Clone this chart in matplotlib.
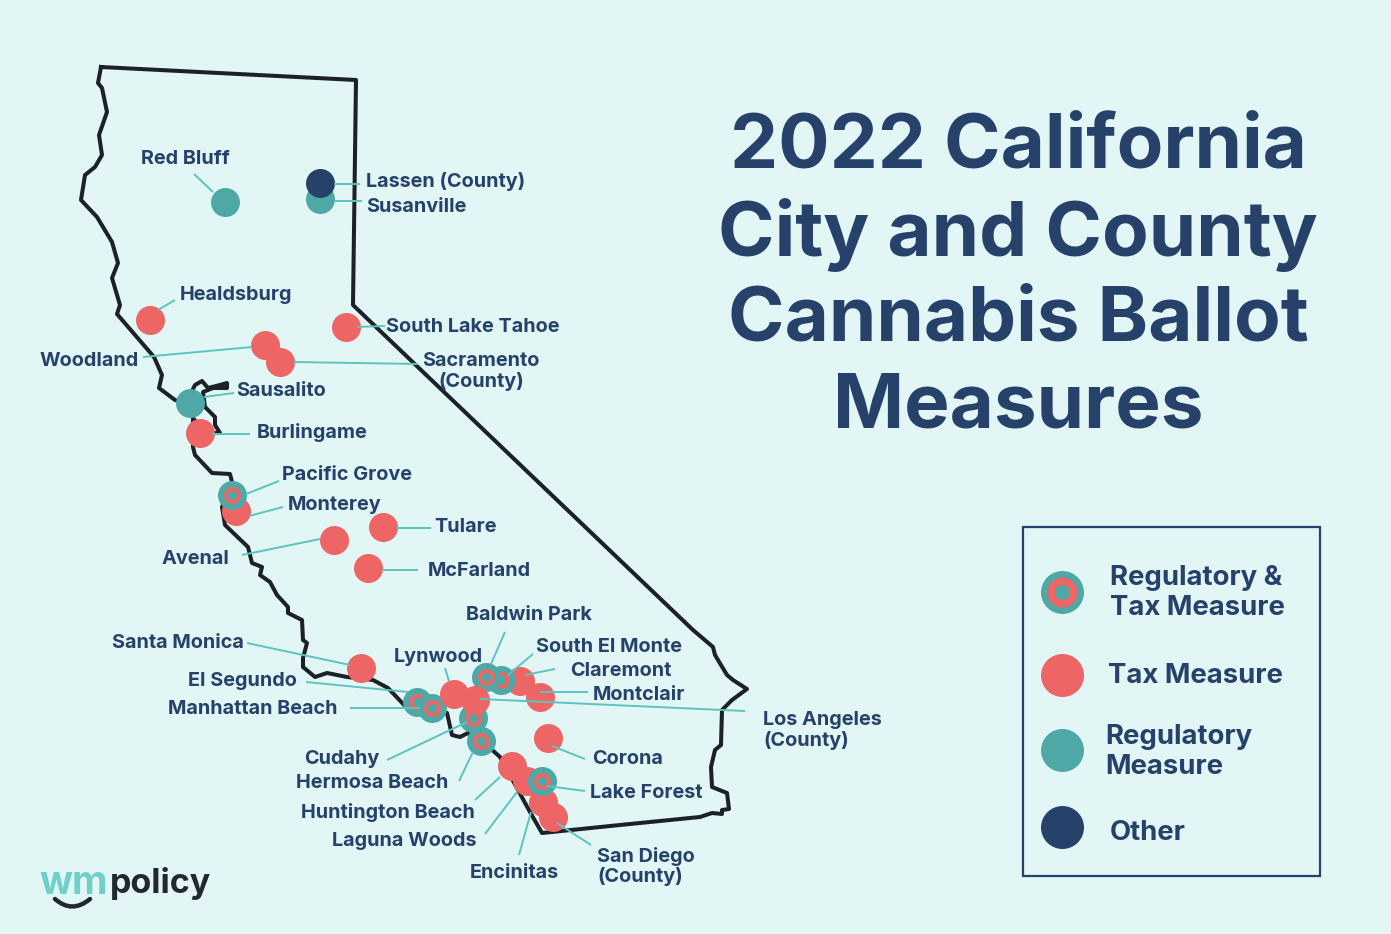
import matplotlib
matplotlib.use('Agg')
from matplotlib import pyplot as plt
from matplotlib.path import Path
from matplotlib.patches import PathPatch, Rectangle

BG = '#e2f6f6'
NAVY = '#26416a'
RED = '#ee6565'
TEAL = '#4ea8a5'
LEADER = '#5cc4c0'
OUTLINE = '#1c2128'

plt.rcParams['font.family'] = ['Inter', 'DejaVu Sans']

# state outline, in picture coordinates
outline_x = [101, 98, 102, 107, 99, 102, 95, 85, 81, 97, 112, 118, 112, 120, 117, 154, 162, 159, 175, 186,
             195, 202, 208, 220, 227, 227, 213, 203, 205, 215, 215, 220, 205, 193, 193, 195, 212, 230, 232,
             222, 225, 248, 252, 262, 260, 270, 277, 288, 288, 302, 303, 307, 303, 303, 315, 327, 347, 373,
             388, 407, 430, 447, 452, 460, 468, 490, 500, 530, 542, 620, 690, 700, 712, 722, 722, 729, 727,
             712, 711, 715, 721, 722, 732, 747, 733, 727, 715, 713, 693, 353, 356, 101]
outline_y = [67, 83, 88, 112, 135, 155, 167, 175, 200, 217, 242, 263, 278, 305, 314, 357, 375, 388, 400, 403,
             385, 381, 388, 385, 383, 388, 388, 392, 407, 417, 425, 433, 433, 418, 447, 455, 473, 474, 482,
             507, 525, 547, 563, 567, 575, 582, 595, 607, 613, 620, 640, 643, 658, 667, 677, 673, 677, 680,
             688, 708, 708, 713, 735, 737, 733, 748, 757, 812, 833, 825, 818, 817, 813, 814, 810, 809, 793,
             787, 767, 750, 745, 710, 700, 689, 680, 675, 655, 647, 630, 305, 80, 67]

# draw order follows the overlaps on the map
cities = ['Claremont', 'Montclair', 'South El Monte', 'Baldwin Park', 'El Segundo', 'Manhattan Beach', 'Cudahy',
          'Lynwood', 'Los Angeles', 'Hermosa Beach', 'Corona', 'Huntington Beach', 'Encinitas', 'San Diego',
          'Laguna Woods', 'Lake Forest', 'Red Bluff', 'Susanville', 'Lassen', 'Healdsburg', 'Woodland',
          'Sacramento', 'South Lake Tahoe', 'Sausalito', 'Burlingame', 'Monterey', 'Pacific Grove', 'Avenal',
          'Tulare', 'McFarland', 'Santa Monica']
city_x = [520, 540, 501, 486, 417, 432, 473, 454, 475, 481, 548, 512, 543, 553, 527, 542, 225, 320, 320, 150, 265,
          280, 346, 190, 200, 236, 232, 334, 383, 368, 361]
city_y = [681, 697, 680, 677, 702, 708, 718, 694, 700, 741, 738, 766, 802, 817, 781, 781, 202, 199, 183, 320, 345,
          362, 327, 403, 433, 511, 495, 540, 527, 568, 668]
city_kind = ['tax', 'tax', 'both', 'both', 'both', 'both', 'both', 'tax', 'tax', 'both', 'tax', 'tax', 'tax', 'tax',
             'tax', 'both', 'reg', 'reg', 'other', 'tax', 'tax', 'tax', 'tax', 'reg', 'tax', 'tax', 'both', 'tax',
             'tax', 'tax', 'tax']

labels = ['Red Bluff', 'Lassen (County)', 'Susanville', 'Healdsburg', 'South Lake Tahoe', 'Woodland',
          'Sacramento\n(County)', 'Sausalito', 'Burlingame', 'Pacific Grove', 'Monterey', 'Avenal', 'Tulare',
          'McFarland', 'Baldwin Park', 'South El Monte', 'Claremont', 'Lynwood', 'Montclair', 'Santa Monica',
          'El Segundo', 'Manhattan Beach', 'Los Angeles\n(County)', 'Cudahy', 'Hermosa Beach', 'Corona',
          'Lake Forest', 'Huntington Beach', 'Laguna Woods', 'Encinitas', 'San Diego\n(County)']

title_lines = ['2022 California', 'City and County', 'Cannabis Ballot', 'Measures']
legend_labels = ['Regulatory &\nTax Measure', 'Tax Measure', 'Regulatory\nMeasure', 'Other']
legend_kinds = ['both', 'tax', 'reg', 'other']


def dot(ax, x, y, kind, d, z, ring=(0.58, 0.31)):
    # d is the diameter in pixels, one pixel is 0.72 pt at dpi 100
    def s(px):
        return (px * 0.72) ** 2
    if kind == 'both':
        ax.scatter(x, y, s=s(d), color=TEAL, linewidths=0, zorder=z)
        ax.scatter(x, y, s=s(d * ring[0]), color=RED, linewidths=0, zorder=z)
        ax.scatter(x, y, s=s(d * ring[1]), color=TEAL, linewidths=0, zorder=z)
    else:
        c = {'tax': RED, 'reg': TEAL, 'other': NAVY}[kind]
        ax.scatter(x, y, s=s(d), color=c, linewidths=0, zorder=z)


fig = plt.figure(figsize=(13.91, 9.34), dpi=100, facecolor=BG)
ax = fig.add_axes([0, 0, 1, 1])
ax.set_xlim(0, 1391)
ax.set_ylim(934, 0)
ax.axis('off')

ax.plot(outline_x, outline_y, color=OUTLINE, lw=2.9, solid_joinstyle='round', zorder=1)

for i in range(len(cities)):
    dot(ax, city_x[i], city_y[i], city_kind[i], 29, 2 + i * 0.01)

# leader lines, one per label
leaders = [(194, 174, 213, 192), (334, 184, 360, 184), (334, 201, 362, 201), (158, 310, 175, 300),
           (357, 327, 385, 326), (143, 357, 252, 347), (294, 362, 418, 364), (204, 397, 234, 393),
           (212, 434, 250, 434), (246, 494, 279, 481), (249, 516, 283, 507), (242, 555, 320, 539),
           (396, 528, 431, 528), (382, 570, 418, 570), (505, 632, 491, 664), (533, 654, 508, 675),
           (555, 669, 525, 675), (445, 668, 449, 681), (588, 692, 540, 692), (247, 643, 350, 665),
           (306, 682, 408, 692), (350, 708, 420, 708), (745, 711, 480, 699), (387, 760, 467, 722),
           (459, 781, 473, 752), (585, 759, 552, 746), (585, 791, 547, 786), (475, 800, 500, 777),
           (485, 834, 517, 792), (519, 855, 531, 812), (591, 845, 557, 823)]
for x0, y0, x1, y1 in leaders:
    ax.plot([x0, x1], [y0, y1], color=LEADER, lw=1.4, zorder=3, solid_capstyle='butt')

# x, y, ha of every label
label_pos = [(141, 158, 'left'), (366, 180, 'left'), (366, 206, 'left'), (180, 294, 'left'), (386, 326, 'left'),
             (40, 359, 'left'), (481, 370, 'center'), (236, 389, 'left'), (257, 431, 'left'), (282, 474, 'left'),
             (288, 504, 'left'), (162, 558, 'left'), (434, 525, 'left'), (428, 569, 'left'), (466, 613, 'left'),
             (536, 645, 'left'), (570, 669, 'left'), (394, 655, 'left'), (593, 693, 'left'), (112, 641, 'left'),
             (188, 680, 'left'), (168, 708, 'left'), (763, 729, 'left'), (304, 757, 'left'), (296, 781, 'left'),
             (592, 758, 'left'), (590, 791, 'left'), (301, 811, 'left'), (332, 840, 'left'), (470, 872, 'left'),
             (597, 865, 'left')]
for t, (x, y, ha) in zip(labels, label_pos):
    ax.text(x, y + 1.5, t, color=NAVY, fontsize=14.3, fontweight='bold', ha=ha, va='center', linespacing=1.13,
            zorder=4)

# title
for t, y in zip(title_lines, [148, 235, 321, 408]):
    ax.text(1018, y, t, color=NAVY, fontsize=55, fontweight='bold', ha='center', va='center')

# legend box
ax.add_patch(Rectangle((1023, 527), 297, 349, fill=False, edgecolor=NAVY, lw=1.6, zorder=2))
legend_y = [592, 675, 750, 827]
legend_text_x = [1110, 1108, 1105, 1110]
legend_text_y = [593, 676, 752, 833]
for i in range(4):
    dot(ax, 1062, legend_y[i], legend_kinds[i], 43, 3, ring=(0.7, 0.35))
    ax.text(legend_text_x[i], legend_text_y[i], legend_labels[i], color=NAVY, fontsize=19.8, fontweight='bold',
            ha='left', va='center', linespacing=1.2)

# logo
ax.text(39, 883, 'wm', color='#6fcfc9', fontsize=28, fontweight='bold', ha='left', va='center')
ax.text(110, 884, 'policy', color='#23272f', fontsize=24.5, fontweight='bold', ha='left', va='center')
smile = Path([(55, 899), (72, 914), (90, 899)], [Path.MOVETO, Path.CURVE3, Path.CURVE3])
ax.add_patch(PathPatch(smile, fill=False, edgecolor='#23272f', lw=3.2, capstyle='round'))

fig.savefig('out.png', dpi=100, facecolor=BG)
